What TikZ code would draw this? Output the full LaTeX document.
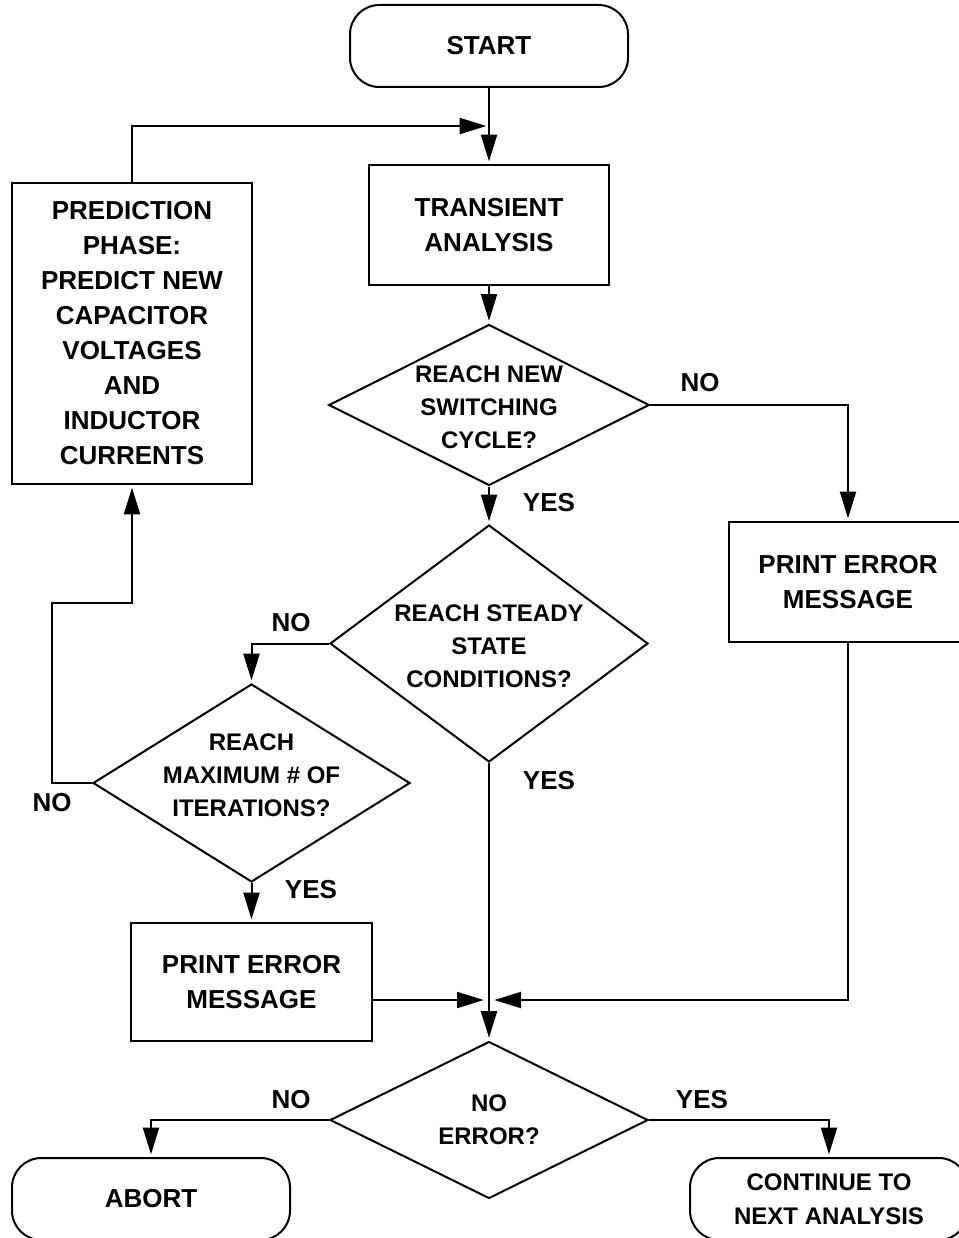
\documentclass[tikz,border=0pt]{standalone}
\usepackage{fontspec}
\setmainfont{Liberation Sans}
\usetikzlibrary{arrows.meta, shapes.geometric, positioning}

\begin{document}
\begin{tikzpicture}[
  x=0.75pt, y=-0.75pt, line width=1.5pt,
  term/.style={draw, rectangle, rounded corners=22pt,
               minimum width=208.5pt, minimum height=61.5pt,
               align=center, font=\fontsize{19.5}{25.5}\selectfont\bfseries},
  proc/.style={draw, rectangle, align=center, inner sep=0pt,
               font=\fontsize{19.5}{26.25}\selectfont\bfseries},
  decide/.style={draw, diamond, align=center, inner sep=0pt,
                 font=\fontsize{18}{24.75}\selectfont\bfseries},
  lbl/.style={font=\fontsize{19.5}{24}\selectfont\bfseries},
  flow/.style={-{Triangle[length=20pt,width=12pt]}, shorten >=2pt},
]
\useasboundingbox (0,0) rectangle (958,1238);

%% Terminals
\node[term] (start) at (489,46) {START};
\node[term] (abort) at (151,1199) {ABORT};
\node[term, font=\fontsize{18}{25.5}\selectfont\bfseries] (cont) at (829,1199)
  {CONTINUE TO\\NEXT ANALYSIS};

%% Process boxes
\node[proc, minimum width=180pt, minimum height=90pt] (trans) at (489,225)
  {TRANSIENT\\ANALYSIS};
\node[proc, minimum width=180pt, minimum height=225.75pt] (pred) at (132,333.5)
  {PREDICTION\\PHASE:\\PREDICT NEW\\CAPACITOR\\VOLTAGES\\AND\\INDUCTOR\\CURRENTS};
\node[proc, minimum width=178.5pt, minimum height=90pt] (perr1) at (848,582)
  {PRINT ERROR\\MESSAGE};
\node[proc, minimum width=180.75pt, minimum height=88.5pt] (perr2) at (251.5,982)
  {PRINT ERROR\\MESSAGE};

%% Decisions
\node[decide, aspect=1.99, minimum width=238.5pt, minimum height=120pt,
      text height=65pt, text depth=-6pt] (d1)
  at (489,405) {REACH NEW\\SWITCHING\\CYCLE?};
\node[decide, aspect=1.34, minimum width=238.5pt, minimum height=177.75pt,
      text height=66pt, text depth=-3.5pt] (d2)
  at (489,643.5) {REACH STEADY\\STATE\\CONDITIONS?};
\node[decide, aspect=1.6, minimum width=237.75pt, minimum height=148.5pt,
      text height=56.5pt, text depth=6pt] (d3)
  at (251.5,783) {REACH\\MAXIMUM \# OF\\ITERATIONS?};
\node[decide, aspect=2.03, minimum width=238.5pt, minimum height=117.75pt] (d4)
  at (489,1120) {NO\\ERROR?};

%% Branch labels
\foreach \n/\x/\y/\t in {no1/700/383/NO, yes1/549/503/YES, no2/291/623/NO,
    yes2/549/781/YES, no3/52/803/NO, yes3/311/890/YES, no4/291/1100/NO,
    yes4/702/1100/YES}
  \node[lbl] (\n) at (\x,\y) {\t};

%% Bend points
\coordinate (join) at (489,126);
\coordinate (merge) at (489,1000);
\coordinate (loop) at (52,603);

%% Flow lines
\draw[flow] (start) -- (trans);
\draw[flow] (pred.north) |- (join);
\draw[flow] (trans) -- (d1);
\draw[flow] (d1.east) -| (perr1.north);
\draw[flow] (d1) -- (d2);
\draw[flow] (d2.west) -| (d3.north);
\draw[flow] (d3.west) -| (loop) -| (pred.south);
\draw[flow] (d3) -- (perr2);
\draw[flow] (d2) -- (d4);
\draw[flow, shorten >=4pt] (perr2.east |- merge) -- (merge);
\draw[flow, shorten >=4pt] (perr1.south) |- (merge);
\draw[flow] (d4.west) -| (abort.north);
\draw[flow] (d4.east) -| (cont.north);
\end{tikzpicture}
\end{document}
